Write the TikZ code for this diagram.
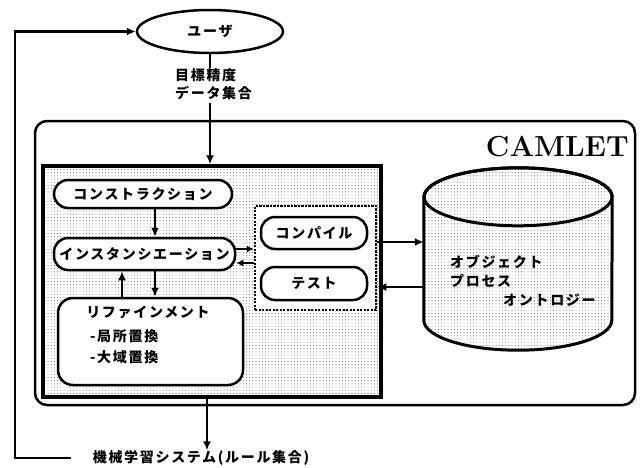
\documentclass[tikz,border=0pt]{standalone}
\usepackage{fontspec}
\newfontfamily\jp{Noto Sans CJK JP}[LetterSpace=12]
\usetikzlibrary{arrows.meta,patterns.meta,shapes.geometric,calc}
\begin{document}
\begin{tikzpicture}[x=1pt,y=-1pt,
  arr/.style={-{Latex[length=9pt,width=8pt]}, line width=2.2pt},
  sarr/.style={-{Latex[length=7pt,width=7pt]}, line width=2.2pt},
  jptext/.style={font=\jp\bfseries\fontsize{14}{18}\selectfont},
  pill/.style={draw, line width=2.5pt, fill=white, rounded corners=14pt, inner sep=0pt, jptext},
  stip/.style={pattern={Dots[distance=3.2pt,radius=0.45pt]}, pattern color=black!75},
]
\useasboundingbox (0,0) rectangle (644,467);

% user
\node[ellipse, draw, line width=2.5pt, minimum width=146pt, minimum height=43pt, inner sep=0pt, jptext] (user) at (210,31.5) {ユーザ};
\node[jptext, align=left, anchor=north west, inner sep=0pt] (goal) at (175,68) {目標精度\\データ集合};

% CAMLET frame
\node[draw, line width=2.5pt, rounded corners=12pt, minimum width=600pt, minimum height=284pt, fill=white, inner sep=0pt] (camlet) at (335,263) {};
\node[anchor=east, font=\bfseries\fontsize{29}{29}\selectfont, inner sep=0pt] (title) at (629,147) {CAMLET};

% inner stippled box
\node[draw, line width=3.5pt, stip, minimum width=338pt, minimum height=231pt, inner sep=0pt] (inner) at (212,281.5) {};

% dashed container
\node[draw, dash pattern=on 2.2pt off 1.3pt, line width=2.5pt, fill=white, minimum width=121pt, minimum height=104pt, inner sep=0pt] (dbox) at (315.5,258) {};

% process nodes
\node[pill, minimum width=178pt, minimum height=28pt] (cons) at (143,194) {コンストラクション};
\node[pill, minimum width=181pt, minimum height=32pt] (inst) at (144.5,254) {インスタンシエーション};
\node[pill, minimum width=106pt, minimum height=32pt] (comp) at (314,233) {コンパイル};
\node[pill, minimum width=106pt, minimum height=33pt] (test) at (314,283.5) {テスト};
\node[draw, line width=2.5pt, fill=white, rounded corners=15pt, minimum width=185pt, minimum height=87pt, inner sep=0pt] (refine) at (150.5,341.5) {};
\node[jptext, inner sep=0pt] (rt) at (148,312) {リファインメント};
\node[jptext, anchor=west, inner sep=0pt] (r1) at (90,336) {-局所置換};
\node[jptext, anchor=west, inner sep=0pt] (r2) at (90,357) {-大域置換};

% cylinder
\node[minimum width=188pt, minimum height=182pt, inner sep=0pt] (cyl) at (518,259) {};
\draw[line width=3pt, stip] ([yshift=-29pt]cyl.north west) -- ([yshift=30pt]cyl.south west)
  arc[start angle=180, end angle=360, x radius=94pt, y radius=30pt]
  -- ([yshift=-29pt]cyl.north east)
  arc[start angle=0, end angle=180, x radius=94pt, y radius=29pt] -- cycle;
\draw[line width=3pt] ([yshift=-29pt]cyl.north) ellipse[x radius=94pt, y radius=29pt];
\node[jptext, anchor=west, inner sep=0pt] (c1) at (450,262) {オブジェクト};
\node[jptext, anchor=west, inner sep=0pt] (c2) at (450,281) {プロセス};
\node[jptext, anchor=west, inner sep=0pt] (c3) at (503,300) {オントロジー};

% bottom label
\node[jptext, inner sep=0pt] (ml) at (201,458) {機械学習システム(ルール集合)};

% helper coordinates
\coordinate (xa) at (155,0);
\coordinate (xb) at (122,0);
\coordinate (xm) at (207,0);
\coordinate (ya) at (0,249);
\coordinate (yb) at (0,263);
\coordinate (yc) at (0,242);
\coordinate (yd) at (0,287);
\coordinate (lc) at (15,31.5);

% connectors
\draw[line width=2.2pt] (user.south) -- (user.south |- goal.north);
\draw[arr] (user.south |- goal.south) ++(0,3) -- (user.south |- inner.north);
\draw[arr] (cons.south -| xa) -- (inst.north -| xa);
\draw[arr] (inst.south -| xa) -- (refine.north -| xa);
\draw[arr] (refine.north -| xb) -- (inst.south -| xb);
\draw[sarr] (inst.east |- ya) -- (dbox.west |- ya);
\draw[sarr] (dbox.west |- yb) -- (inst.east |- yb);
\draw[arr] (dbox.east |- yc) -- (cyl.west |- yc);
\draw[arr] (cyl.west |- yd) -- (dbox.east |- yd);
\draw[arr] (inner.south -| xm) -- (ml.north -| xm);
\draw[arr, shorten <=22pt] (ml.west) -| (lc) -- (user.west);
\end{tikzpicture}
\end{document}
